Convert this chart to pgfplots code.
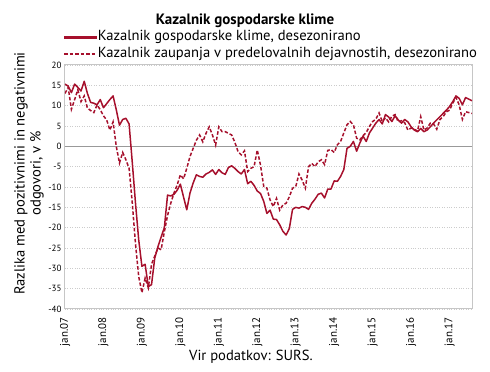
\documentclass[border=0pt]{standalone}
\usepackage{fontspec}
\setmainfont{PT Sans}
\usepackage{pgfplots}
\pgfplotsset{compat=1.18}
\usepackage{pgfplotstable}
\definecolor{kred}{RGB}{166,16,44}

\pgfplotstableread{
i s d
0 15.3 13.0
1 14.8 14.5
2 13.2 9.1
3 15.3 11.5
4 14.5 13.9
5 13.6 11.0
6 16.0 12.4
7 13.0 9.4
8 10.8 8.8
9 10.6 8.3
10 10.2 10.2
11 11.5 9.0
12 9.5 7.5
13 10.5 6.5
14 11.5 4.0
15 12.4 6.0
16 9.0 0.0
17 5.2 -4.1
18 6.6 -1.5
19 6.9 -3.3
20 5.5 -5.4
21 -4.0 -14.0
22 -14.0 -24.0
23 -23.0 -32.0
24 -29.5 -36.0
25 -29.0 -32.4
26 -34.5 -34.8
27 -34.0 -29.0
28 -27.5 -27.0
29 -24.7 -25.0
30 -22.3 -25.4
31 -20.0 -21.0
32 -12.0 -17.0
33 -12.2 -14.0
34 -11.8 -11.5
35 -10.8 -9.5
36 -9.3 -7.0
37 -12.5 -8.0
38 -15.6 -5.4
39 -11.5 -2.5
40 -9.0 -0.5
41 -7.0 1.5
42 -7.4 2.8
43 -7.6 1.1
44 -6.8 3.2
45 -6.4 4.8
46 -5.8 2.8
47 -6.9 0.3
48 -5.7 4.8
49 -6.5 3.6
50 -6.9 3.6
51 -5.2 3.2
52 -4.8 2.8
53 -5.4 1.0
54 -6.2 -1.3
55 -6.8 -2.1
56 -5.7 -1.1
57 -9.2 -6.2
58 -8.6 -5.4
59 -9.6 -5.0
60 -11.0 -0.9
61 -11.6 -4.6
62 -13.5 -9.8
63 -16.5 -10.3
64 -15.7 -13.2
65 -17.9 -14.8
66 -18.0 -12.8
67 -19.3 -15.7
68 -20.9 -14.4
69 -21.8 -14.0
70 -20.2 -12.4
71 -15.5 -10.3
72 -15.0 -9.9
73 -15.2 -6.8
74 -14.8 -8.3
75 -15.0 -10.3
76 -15.5 -5.0
77 -14.0 -4.2
78 -13.0 -5.0
79 -11.8 -3.8
80 -11.5 -3.3
81 -12.7 -4.5
82 -10.5 -1.0
83 -10.5 -0.8
84 -8.5 -1.5
85 -8.6 0.4
86 -7.4 1.2
87 -5.7 3.3
88 -0.5 5.3
89 0.0 6.1
90 1.2 5.3
91 -1.2 2.0
92 0.8 1.6
93 2.5 2.6
94 1.2 3.4
95 3.3 4.9
96 4.5 6.1
97 5.7 6.7
98 6.6 8.2
99 5.5 6.1
100 7.8 7.0
101 7.2 6.0
102 6.1 7.4
103 7.5 7.8
104 6.5 6.0
105 5.7 6.3
106 6.6 5.8
107 6.0 4.0
108 4.8 4.5
109 4.0 4.2
110 3.6 3.8
111 4.4 7.3
112 3.6 4.0
113 4.0 4.5
114 4.8 5.7
115 5.7 5.5
116 6.5 4.2
117 7.3 6.6
118 8.1 7.3
119 8.9 8.5
120 9.8 8.9
121 11.0 10.6
122 12.4 12.0
123 11.8 10.2
124 10.2 6.6
125 12.0 8.5
126 11.6 8.3
127 11.2 8.1
}\data

\begin{document}
\begin{tikzpicture}
\useasboundingbox (0pt,0pt) rectangle (490pt,372pt);
\begin{axis}[
  at={(65pt,63pt)}, anchor=south west,
  scale only axis, width=407pt, height=244pt,
  xmin=0, xmax=127, ymin=-40, ymax=20,
  ytick={-40,-35,...,20},
  xtick={0,12,...,120},
  xticklabels={jan.07,jan.08,jan.09,jan.10,jan.11,jan.12,jan.13,jan.14,jan.15,jan.16,jan.17},
  x tick label style={rotate=90, anchor=east, font=\fontsize{11}{12}\selectfont},
  xticklabel shift=5pt,
  y tick label style={font=\fontsize{9}{10}\selectfont},
  /pgf/number format/assume math mode=true,
  major tick length=0pt,
  ymajorgrids,
  grid style={gray!40, dotted, line width=0.7pt},
  axis line style={gray!45, line width=1pt},
  extra y ticks={0}, extra y tick labels={},
  extra y tick style={grid style={solid, gray!80, line width=0.8pt}},
  ylabel={Razlika med pozitivnimi in negativnimi\\odgovori, v \%},
  ylabel style={align=center, font=\fontsize{14.6}{16}\selectfont, at={(axis description cs:-0.052,0.555)}, anchor=south, inner sep=0pt},
  legend style={at={(0,1)}, anchor=south west, xshift=-2pt, yshift=4pt, draw=none, fill=none,
    font=\fontsize{14.6}{15}\selectfont, cells={anchor=west}, row sep=2pt, inner sep=0pt,
    nodes={inner sep=0.6pt, text height=10pt, text depth=3pt}},
]
\addlegendimage{legend image code/.code={\fill[kred] (0pt,-0.85pt) rectangle (32pt,0.85pt);}}
\addlegendentry{Kazalnik gospodarske klime, desezonirano}
\addlegendimage{legend image code/.code={\draw[kred, line width=2pt, dash pattern=on 3.5pt off 2pt] (0pt,0pt) -- (32pt,0pt);}}
\addlegendentry{Kazalnik zaupanja v predelovalnih dejavnostih, desezonirano}
\addplot[kred, line width=1.5pt, line join=round, forget plot] table[x=i, y=s] {\data};
\addplot[kred, line width=1.5pt, dash pattern=on 3.5pt off 2pt, forget plot] table[x=i, y=d] {\data};
\end{axis}
\node[font=\bfseries\fontsize{15}{16}\selectfont] at (245pt,351pt) {Kazalnik gospodarske klime};
\node[font=\fontsize{14.6}{16}\selectfont] at (251pt,15pt) {Vir podatkov: SURS.};
\end{tikzpicture}
\end{document}
